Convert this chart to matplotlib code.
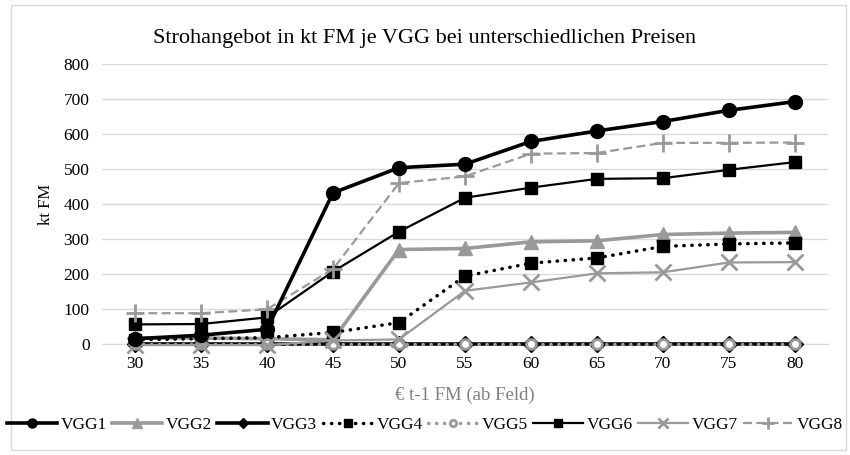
import matplotlib.pyplot as plt
from matplotlib.patches import Rectangle

plt.rcParams['font.family'] = ['Liberation Serif', 'DejaVu Serif']

preise = [30, 35, 40, 45, 50, 55, 60, 65, 70, 75, 80]
vgg1 = [15, 25, 42, 432, 504, 514, 579, 609, 636, 668, 693]
vgg2 = [17, 17, 15, 12, 270, 273, 292, 295, 313, 317, 319]
vgg3 = [0, 0, 0, 0, 0, 0, 0, 0, 0, 0, 0]
vgg4 = [12, 15, 18, 33, 61, 194, 231, 246, 279, 286, 289]
vgg5 = [0, 0, 0, 0, 0, 0, 0, 0, 0, 0, 0]
vgg6 = [56, 57, 76, 207, 321, 418, 447, 472, 474, 498, 520]
vgg7 = [-3, -3, -3, 10, 13, 152, 176, 202, 205, 233, 234]
vgg8 = [88, 88, 99, 214, 460, 479, 544, 546, 575, 575, 576]

grau = '#999999'
x = list(range(len(preise)))

fig = plt.figure(figsize=(8.5, 4.55), dpi=100)
ax = fig.add_axes([0.12, 0.244, 0.854, 0.615])

ax.plot(x, vgg1, color='black', lw=2.6, marker='o', ms=10, label='VGG1', zorder=5)
ax.plot(x, vgg2, color=grau, lw=2.6, marker='^', ms=10, label='VGG2', zorder=4)
ax.plot(x, vgg3, color='black', lw=2.6, marker='D', ms=8, label='VGG3', zorder=3)
ax.plot(x, vgg4, color='black', lw=2.5, ls=(0, (0.1, 2.2)), dash_capstyle='round',
        marker='s', ms=9, label='VGG4', zorder=4)
ax.plot(x, vgg5, color=grau, lw=2.5, ls=(0, (0.1, 2.2)), dash_capstyle='round',
        marker='o', ms=7, mfc='white', mec=grau, mew=2, label='VGG5', zorder=4)
ax.plot(x, vgg6, color='black', lw=1.6, marker='s', ms=9, label='VGG6', zorder=4)
ax.plot(x, vgg7, color=grau, lw=1.6, marker='x', ms=11, mew=2, label='VGG7', zorder=4)
ax.plot(x, vgg8, color=grau, lw=1.6, ls=(0, (4, 2)), marker='+', ms=13, mew=2,
        label='VGG8', zorder=4)

ax.set_xlim(-0.5, len(preise) - 0.5)
ax.set_ylim(0, 800)
ax.set_yticks(range(0, 801, 100))
ax.set_xticks(x)
ax.set_xticklabels([str(p) for p in preise])
ax.yaxis.grid(True, color='#d9d9d9', lw=1)
ax.set_axisbelow(True)
for s in ['top', 'right', 'left']:
    ax.spines[s].set_visible(False)
ax.spines['bottom'].set_color('#d9d9d9')
ax.tick_params(length=0, labelsize=12.5, colors='black', pad=9)
for l in ax.lines:
    l.set_clip_on(False)

ax.set_ylabel('kt FM', fontsize=12, labelpad=7)
ax.set_xlabel('€ t-1 FM (ab Feld)', fontsize=13.5, color='#808080', labelpad=10)
fig.text(0.5, 0.915, 'Strohangebot in kt FM je VGG bei unterschiedlichen Preisen',
         ha='center', va='center', fontsize=16)

fig.legend(loc='center', bbox_to_anchor=(0.5, 0.066), ncol=8, frameon=False,
           fontsize=12.5, handlelength=2.9, handletextpad=0.2, columnspacing=0.3,
           markerscale=0.65, borderaxespad=0)

fig.patches.append(Rectangle((0.013, 0.011), 0.982, 0.978, transform=fig.transFigure,
                             fill=False, edgecolor='#d9d9d9', lw=1))

fig.savefig('out.png', dpi=100)
